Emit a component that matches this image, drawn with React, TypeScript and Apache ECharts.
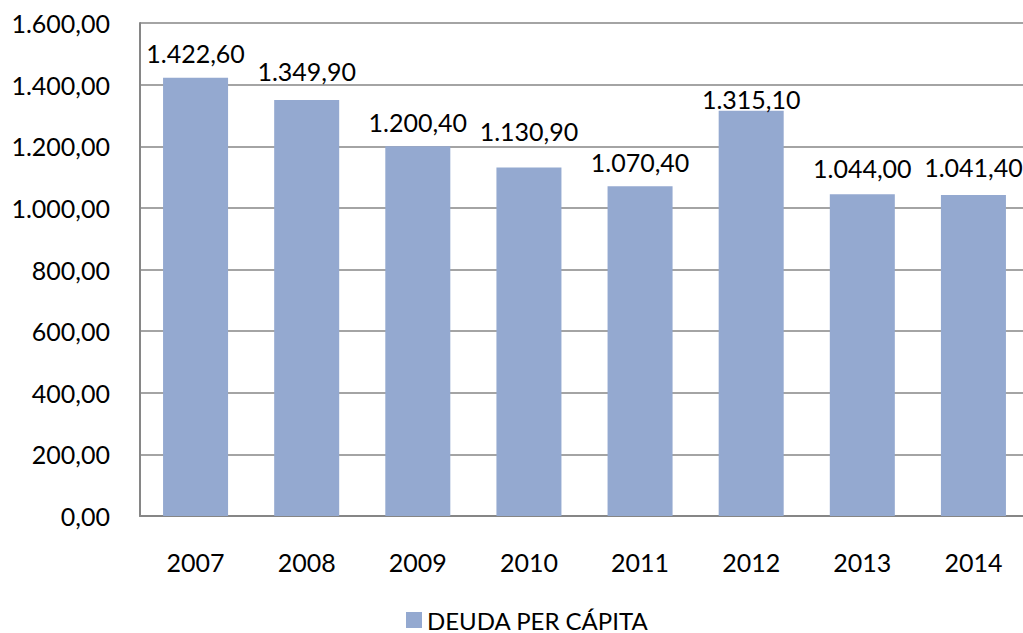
import React, { useEffect, useRef } from "react";
import * as echarts from "echarts";

const years = ["2007", "2008", "2009", "2010", "2011", "2012", "2013", "2014"];
const deudaPerCapita = [1422.6, 1349.9, 1200.4, 1130.9, 1070.4, 1315.1, 1044.0, 1041.4];
const seriesName = "DEUDA PER CÁPITA";

// vertical nudges (px) of the value labels, as placed in the original chart
const labelNudge = [0, -5, 0, -12, 0, 13, -2, -4];

const fmt = (v: number) => {
  const [i, d] = v.toFixed(2).split(".");
  const withDots = i.replace(/\B(?=(\d{3})+(?!\d))/g, ".");
  return withDots + "," + d;
};

const FONT = "Lato, 'Open Sans', sans-serif";

export default function App() {
  const ref = useRef<HTMLDivElement>(null);
  useEffect(() => {
    if (!ref.current) return;
    const chart = echarts.init(ref.current, undefined, { renderer: "svg" });
    chart.setOption({
      animation: false,
      backgroundColor: "#ffffff",
      textStyle: { fontFamily: FONT },
      legend: {
        data: [seriesName],
        left: 401,
        top: 603,
        itemWidth: 16,
        itemHeight: 16,
        itemGap: 9,
        icon: "rect",
        textStyle: { fontSize: 24, color: "#000", fontFamily: FONT },
      },
      grid: { left: 140, right: 0, top: 23, bottom: 117, containLabel: false },
      xAxis: {
        type: "category",
        data: years,
        axisLine: { show: true, lineStyle: { color: "#868686", width: 2 } },
        axisTick: { show: false },
        axisLabel: { color: "#000", fontSize: 25, margin: 33, fontFamily: FONT },
      },
      yAxis: {
        type: "value",
        min: 0,
        max: 1600,
        interval: 200,
        axisLine: { show: true, lineStyle: { color: "#868686", width: 2 } },
        axisTick: { show: false },
        splitLine: { show: true, lineStyle: { color: "#868686", width: 1.5 } },
        axisLabel: {
          color: "#000",
          fontSize: 25,
          margin: 30,
          fontFamily: FONT,
          formatter: (v: number) => fmt(v),
        },
      },
      series: [
        {
          name: seriesName,
          type: "bar",
          data: deudaPerCapita.map((v, i) => ({
            value: v,
            label: { offset: [0, labelNudge[i]] },
          })),
          barWidth: "58.5%",
          itemStyle: { color: "#94A9D0" },
          label: {
            show: true,
            position: "top",
            distance: 12,
            color: "#000",
            fontSize: 25,
            fontFamily: FONT,
            formatter: (p: any) => fmt(p.value),
          },
        },
      ],
    });
    return () => chart.dispose();
  }, []);
  return (
    <div style={{ position: "fixed", left: 0, top: 0, width: 1023, height: 633, overflow: "hidden", background: "#fff" }}>
      <div ref={ref} style={{ width: 1029, height: 633 }} />
    </div>
  );
}
